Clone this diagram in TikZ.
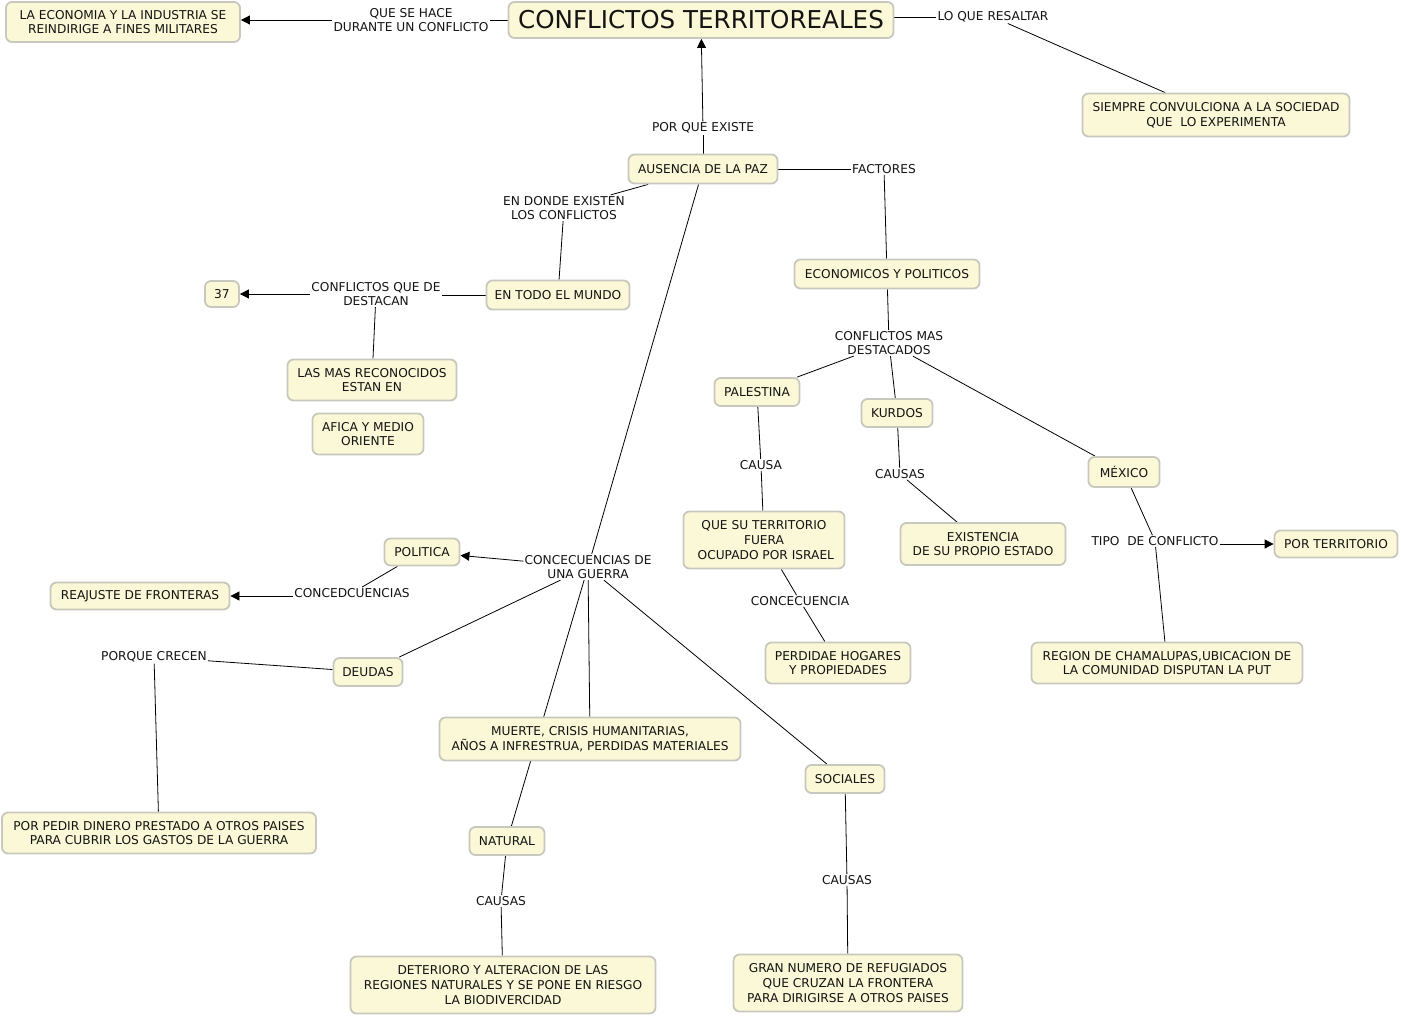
\documentclass[tikz,border=0pt]{standalone}
\usepackage{fontspec}
\setmainfont{DejaVu Sans}
\usetikzlibrary{arrows.meta,backgrounds}
\definecolor{boxfill}{RGB}{250,248,214}
\definecolor{boxline}{RGB}{200,200,190}
\definecolor{txt}{RGB}{20,20,20}
\newcommand\fsz{\fontsize{12.2}{14.6}\selectfont}
\tikzset{
  concept/.style={draw=boxline, fill=boxfill, line width=1.8pt, rounded corners=6pt,
    align=center, inner xsep=3pt, inner ysep=2pt, font=\fsz, text=txt},
  phrase/.style={align=center, inner xsep=1pt, inner ysep=1pt, font=\fsz, text=txt},
  link/.style={draw=black, line width=0.8pt},
  arr/.style={link, -{Triangle[length=9pt,width=9pt]}},
}
\begin{document}
\begin{tikzpicture}[x=1pt,y=-1pt]
\useasboundingbox (0,0) rectangle (1401,1016);
% concepts
\node[concept, minimum width=234, minimum height=40] (econ) at (123,22) {LA ECONOMIA Y LA INDUSTRIA SE\\REINDIRIGE A FINES MILITARES};
\node[concept, minimum width=385, minimum height=36, font=\fontsize{24.6}{28}\selectfont] (title) at (701,20) {CONFLICTOS TERRITOREALES};
\node[concept, minimum width=267, minimum height=43] (siempre) at (1216,115) {SIEMPRE CONVULCIONA A LA SOCIEDAD\\QUE~ LO EXPERIMENTA};
\node[concept, minimum width=149, minimum height=29] (ausencia) at (703,169) {AUSENCIA DE LA PAZ};
\node[concept, minimum width=185, minimum height=29] (econpol) at (887,274) {ECONOMICOS Y POLITICOS};
\node[concept, minimum width=143, minimum height=29] (mundo) at (558,295) {EN TODO EL MUNDO};
\node[concept, minimum width=34, minimum height=26] (n37) at (222,294) {37};
\node[concept, minimum width=169, minimum height=41] (reconocidos) at (372,380) {LAS MAS RECONOCIDOS\\ESTAN EN};
\node[concept, minimum width=111, minimum height=41] (afica) at (368,434) {AFICA Y MEDIO\\ORIENTE};
\node[concept, minimum width=85, minimum height=28] (palestina) at (757,392) {PALESTINA};
\node[concept, minimum width=71, minimum height=28] (kurdos) at (897,413) {KURDOS};
\node[concept, minimum width=71, minimum height=30] (mexico) at (1124,472) {MÉXICO};
\node[concept, minimum width=161, minimum height=57] (territorio) at (764,540) {QUE SU TERRITORIO\\FUERA\\\hspace*{.3em}OCUPADO POR ISRAEL};
\node[concept, minimum width=165, minimum height=42] (existencia) at (983,544) {EXISTENCIA\\DE SU PROPIO ESTADO};
\node[concept, minimum width=123, minimum height=27] (porterr) at (1336,544) {POR TERRITORIO};
\node[concept, minimum width=145, minimum height=41] (perdida) at (838,663) {PERDIDAE HOGARES\\Y PROPIEDADES};
\node[concept, minimum width=271, minimum height=41] (region) at (1167,663) {REGION DE CHAMALUPAS,UBICACION DE\\LA COMUNIDAD DISPUTAN LA PUT};
\node[concept, minimum width=75, minimum height=27] (politica) at (422,552) {POLITICA};
\node[concept, minimum width=179, minimum height=27] (reajuste) at (140,596) {REAJUSTE DE FRONTERAS};
\node[concept, minimum width=69, minimum height=28] (deudas) at (368,672) {DEUDAS};
\node[concept, minimum width=301, minimum height=43] (muerte) at (590,739) {MUERTE, CRISIS HUMANITARIAS,\\AÑOS A INFRESTRUA, PERDIDAS MATERIALES};
\node[concept, minimum width=79, minimum height=28] (sociales) at (845,779) {SOCIALES};
\node[concept, minimum width=314, minimum height=41] (porpedir) at (159,833) {POR PEDIR DINERO PRESTADO A OTROS PAISES\\PARA CUBRIR LOS GASTOS DE LA GUERRA};
\node[concept, minimum width=75, minimum height=28] (natural) at (507,841) {NATURAL};
\node[concept, minimum width=305, minimum height=57] (deterioro) at (503,985) {DETERIORO Y ALTERACION DE LAS\\REGIONES NATURALES Y SE PONE EN RIESGO\\LA BIODIVERCIDAD};
\node[concept, minimum width=229, minimum height=57] (gran) at (848,983) {GRAN NUMERO DE REFUGIADOS\\QUE CRUZAN LA FRONTERA\\PARA DIRIGIRSE A OTROS PAISES};
% linking phrases
\node[phrase] (pHace) at (411,20) {QUE SE HACE\\DURANTE UN CONFLICTO};
\node[phrase] (pResaltar) at (993,17) {LO QUE RESALTAR};
\node[phrase] (pExiste) at (703,128) {POR QUE EXISTE};
\node[phrase] (pFactores) at (884,169) {FACTORES};
\node[phrase] (pDonde) at (564,208) {EN DONDE EXISTEN\\LOS CONFLICTOS};
\node[phrase] (pDestacan) at (376,294) {CONFLICTOS QUE DE\\DESTACAN};
\node[phrase] (pMas) at (889,343) {CONFLICTOS MAS\\DESTACADOS};
\node[phrase] (pCausa) at (761,465) {CAUSA};
\node[phrase] (pCausasK) at (900,474) {CAUSAS};
\node[phrase] (pTipo) at (1155,541) {TIPO~ DE CONFLICTO};
\node[phrase] (pConce) at (800,601) {CONCECUENCIA};
\node[phrase] (pGuerra) at (588,567) {CONCECUENCIAS DE\\UNA GUERRA};
\node[phrase] (pConced) at (352,593) {CONCEDCUENCIAS};
\node[phrase] (pCrecen) at (154,657) {PORQUE CRECEN};
\node[phrase] (pCausasN) at (501,901) {CAUSAS};
\node[phrase] (pCausasS) at (847,880) {CAUSAS};
% connectors
\begin{pgfonlayer}{background}
\fill[white] (0,0) rectangle (1401,1016);
\draw[link] (title.west |- pHace.east) -- (pHace.east);
\draw[arr] (pHace.west) -- (pHace.west -| econ.east);
\draw[link] (title.east |- pResaltar.west) -- (pResaltar.west);
\draw[link] (pResaltar) -- (siempre);
\draw[link] (ausencia) -- (pExiste);
\draw[arr] (pExiste) -- (title);
\draw[link] (ausencia) -- (pFactores);
\draw[link] (pFactores) -- (econpol);
\draw[link] (ausencia) -- (pDonde);
\draw[link] (pDonde) -- (mundo);
\draw[link] (mundo.west) -- (mundo.west -| pDestacan.east);
\draw[arr] (pDestacan.west) -- (pDestacan.west -| n37.east);
\draw[link] (pDestacan) -- (reconocidos);
\draw[link] (econpol) -- (pMas);
\draw[link] (pMas) -- (palestina);
\draw[link] (pMas) -- (kurdos);
\draw[link] (pMas) -- (mexico);
\draw[link] (palestina) -- (pCausa);
\draw[link] (pCausa) -- (territorio);
\draw[link] (kurdos) -- (pCausasK);
\draw[link] (pCausasK) -- (existencia);
\draw[link] (mexico) -- (pTipo);
\draw[arr] (pTipo.east |- porterr.west) -- (porterr.west);
\draw[link] (pTipo) -- (region);
\draw[link] (territorio) -- (pConce);
\draw[link] (pConce) -- (perdida);
\draw[link] (ausencia) -- (pGuerra);
\draw[arr] (pGuerra) -- (politica);
\draw[link] (pGuerra) -- (deudas);
\draw[link] (pGuerra) -- (natural);
\draw[link] (pGuerra) -- (muerte);
\draw[link] (pGuerra) -- (sociales);
\draw[link] (politica) -- (pConced);
\draw[arr] (pConced.west |- reajuste.east) -- (reajuste.east);
\draw[link] (deudas) -- (pCrecen);
\draw[link] (pCrecen) -- (porpedir);
\draw[link] (natural) -- (pCausasN);
\draw[link] (pCausasN) -- (deterioro);
\draw[link] (sociales) -- (pCausasS);
\draw[link] (pCausasS) -- (gran);
\end{pgfonlayer}
\end{tikzpicture}
\end{document}
